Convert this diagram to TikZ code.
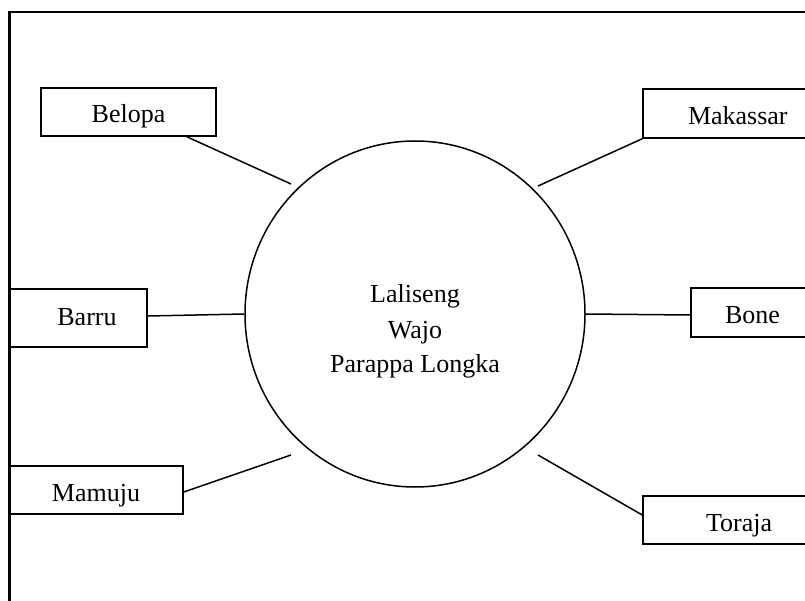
\documentclass[tikz,border=0pt]{standalone}
\usepackage{fontspec}
\setmainfont{Liberation Serif}
\usetikzlibrary{shapes.geometric}
\begin{document}
\begin{tikzpicture}[x=1pt,y=-1pt,
  lbl/.style={draw,line width=1.5pt,inner sep=0pt,text height=22pt,text depth=0pt,font=\fontsize{26}{34}\selectfont},
  ctr/.style={anchor=base,inner sep=0pt,font=\fontsize{26}{34}\selectfont},
  link/.style={line width=1.5pt}]
\useasboundingbox (0,0) rectangle (805,601);
\begin{scope}
\clip (0,0) rectangle (805,601);
\draw[line width=2.5pt] (9.5,12) rectangle (840,640);
\node[lbl, minimum width=175pt, minimum height=48pt] (belopa) at (128.5,112) {Belopa};
\node[lbl, minimum width=192pt, minimum height=49pt, text width=192pt, align=left] (makassar) at (739,113.5) {\hspace*{45pt}Makassar};
\node[lbl, minimum width=138pt, minimum height=58pt, text depth=8pt] (barru) at (78,318) {\hspace*{18pt}Barru};
\node[lbl, minimum width=130pt, minimum height=49pt, text width=130pt, align=left] (bone) at (756,312.5) {\hspace*{34pt}Bone};
\node[lbl, minimum width=174pt, minimum height=48pt] (mamuju) at (96,490) {Mamuju};
\node[lbl, minimum width=194pt, minimum height=48pt, text width=194pt, align=left] (toraja) at (740,520) {\hspace*{63pt}Toraja};
\node[ellipse, draw, line width=1.5pt, minimum width=340pt, minimum height=346pt, inner sep=0pt] (c) at (415,314) {};
\node[ctr] (t1) at (415,303) {Laliseng};
\node[ctr] (t2) at (415,338) {Wajo};
\node[ctr] (t3) at (415,372) {Parappa Longka};
\coordinate (e1) at (291,184);
\coordinate (e2) at (538,186);
\coordinate (e5) at (291,455);
\coordinate (e6) at (538,455);
\draw[link] ([xshift=-30pt]belopa.south east) -- (e1);
\draw[link] (makassar.south west) -- (e2);
\draw[link] ([yshift=2pt]barru.east) -- (c.west);
\draw[link] (c.east) -- ([yshift=-2.5pt]bone.west);
\draw[link] ([yshift=-2pt]mamuju.east) -- (e5);
\draw[link] ([yshift=5pt]toraja.west) -- (e6);
\end{scope}
\end{tikzpicture}
\end{document}
